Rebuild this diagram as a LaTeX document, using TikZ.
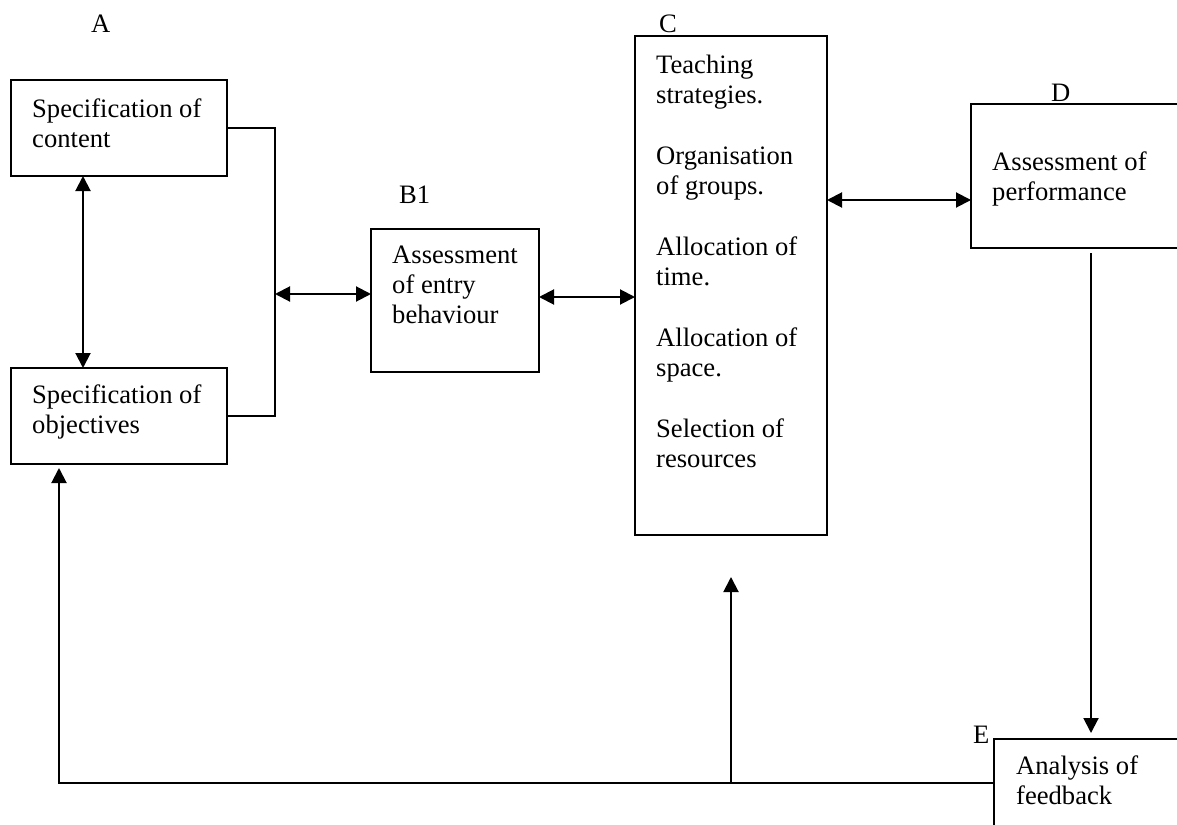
\documentclass[tikz,border=0pt]{standalone}
\usepackage{fontspec}
\setmainfont{Liberation Serif}
\usetikzlibrary{arrows.meta,calc}
\tikzset{
  box/.style={draw, line width=2pt, rectangle, inner sep=0pt, outer sep=0pt, anchor=north west},
  txt/.style={anchor=north west, inner sep=0pt, align=left, font=\fontsize{26.6}{30}\selectfont},
  lbl/.style={anchor=base west, inner sep=0pt, font=\fontsize{26.6}{30}\selectfont},
  conn/.style={line width=2pt},
  arr/.style={line width=2pt, -{Triangle[length=15pt,width=15pt]}},
  dbl/.style={line width=2pt, {Triangle[length=15pt,width=15pt]}-{Triangle[length=15pt,width=15pt]}}
}
\begin{document}
\begin{tikzpicture}[x=1pt,y=-1pt]
\useasboundingbox (0,0) rectangle (1177,824);
\clip (0,0) rectangle (1177,824);
% boxes
\node[box, minimum width=216pt, minimum height=96pt] (A1) at (11,80) {};
\node[box, minimum width=216pt, minimum height=96pt] (A2) at (11,368) {};
\node[box, minimum width=168pt, minimum height=143pt] (B1) at (371,229) {};
\node[box, minimum width=192pt, minimum height=499pt] (C) at (635,36) {};
\node[box, minimum width=240pt, minimum height=144pt] (D) at (971,104) {};
\node[box, minimum width=240pt, minimum height=130pt] (E) at (994,739) {};
% texts
\node[txt] (tA1) at (32,96) {\strut Specification of\\content};
\node[txt] (tA2) at (32,382) {\strut Specification of\\objectives};
\node[txt] (tB1) at (392,242) {\strut Assessment\\of entry\\behaviour};
\node[txt] (tC) at (656,52) {\strut Teaching\\strategies.\\[31pt]Organisation\\of groups.\\[31pt]Allocation of\\time.\\[31pt]Allocation of\\space.\\[31pt]Selection of\\resources};
\node[txt] (tD) at (992,149) {\strut Assessment of\\performance};
\node[txt] (tE) at (1016,753) {\strut Analysis of\\feedback};
% labels
\node[lbl] (lA) at (91,33) {A};
\node[lbl] (lB) at (399,203) {B1};
\node[lbl] (lC) at (659,33) {C};
\node[lbl] (lD) at (1051,102) {D};
\node[lbl] (lE) at (973,743) {E};
% connectors
\draw[dbl] ($(A1.south west)+(72,0)$) -- ($(A2.north west)+(72,0)$);
\draw[conn] ($(A1.north east)+(0,48)$) -- ++(48,0) |- ($(A2.north east)+(0,48)$);
\coordinate (br) at (275,294);
\draw[dbl] (br) -- (br -| B1.west);
\draw[dbl] ($(B1.east)+(0,-3.5)$) -- ($(B1.east -| C.west)+(0,-3.5)$);
\draw[dbl] ($(D.west)+(0,24)$) -- ($(D.west -| C.east)+(0,24)$);
\draw[arr] ($(D.south west)+(120,5)$) -- ($(E.north west)+(97,-6)$);
\coordinate (fbL) at (59,783);
\coordinate (fbM) at (731,783);
\draw[conn] ($(E.north west)+(0,44)$) -- ($(fbL)+(-1,0)$);
\draw[arr] (fbL) -- ($(A2.south west)+(48,4)$);
\draw[arr] (fbM) -- ($(C.south -| fbM)+(0,42)$);
\end{tikzpicture}
\end{document}
